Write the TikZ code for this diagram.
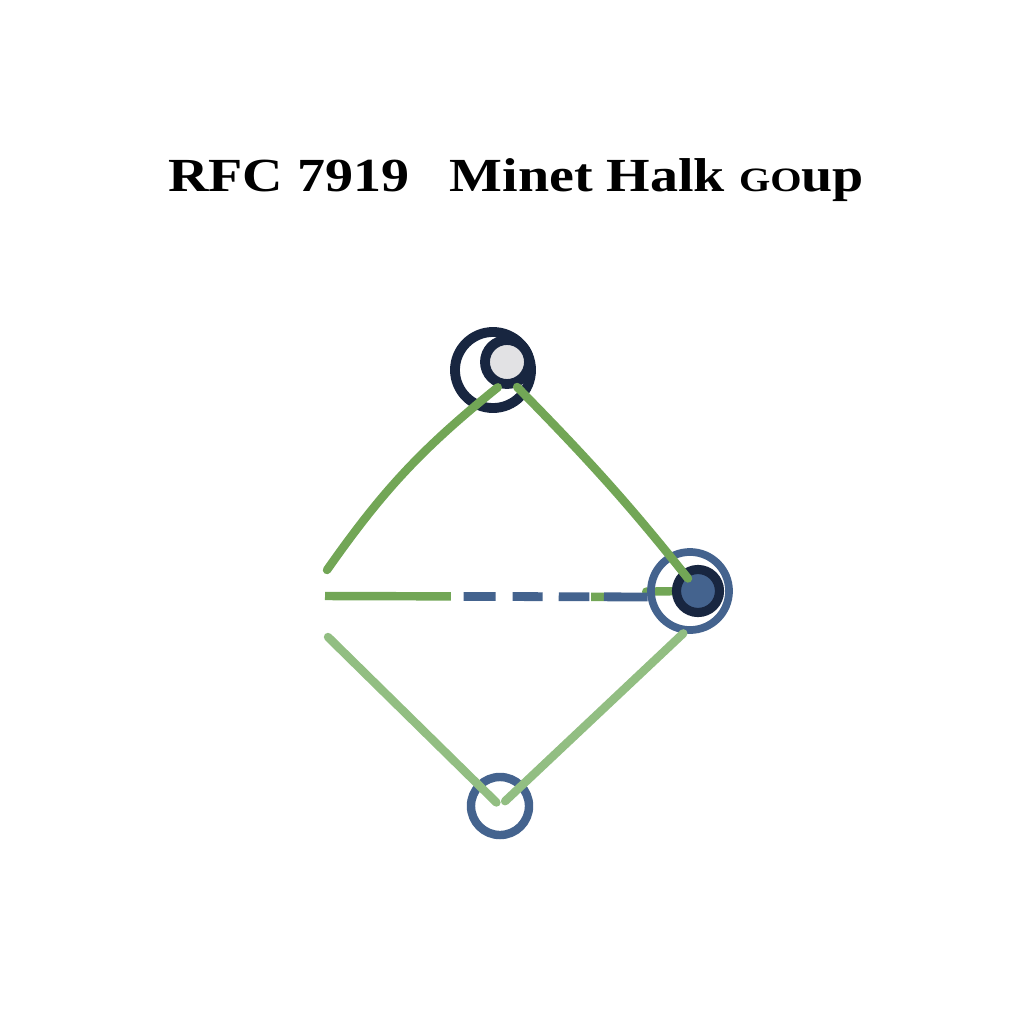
\documentclass[tikz,border=0pt]{standalone}
\usepackage{tikz}
\usepackage{fontspec}
\setmainfont{Liberation Serif}
\usetikzlibrary{arrows.meta,calc,positioning}
\definecolor{linkgreen}{RGB}{114,166,86}
\definecolor{palegreen}{RGB}{146,190,130}
\definecolor{navy}{RGB}{24,38,64}
\definecolor{hubblue}{RGB}{68,99,142}
\definecolor{hubgray}{RGB}{226,226,228}

\begin{document}
\begin{tikzpicture}[x=0.01cm, y=-0.01cm,
  ring/.style={circle, draw, inner sep=0pt, line width=2.4pt},
  link/.style={draw=linkgreen, line width=2.4pt, line cap=round},
  lowlink/.style={link, draw=palegreen},
  navylink/.style={draw=hubblue, line width=2.5pt}]
  \useasboundingbox (0,0) rectangle (1024,1024);

  % Title
  \node[font=\fontsize{13.5}{16}\selectfont\bfseries, xscale=1.18] (title) at (516,180)
    {RFC 7919\hspace{0.47em} Minet Halk {\fontsize{9.7}{12}\selectfont GO}up};

  % Define points
  \coordinate (ul) at (327,570);
  \coordinate (ml) at (325,596);
  \coordinate (ll) at (328,637);
  \coordinate (hubc) at (690,591);

  % green piece under the right ring
  \draw[link] (hubc) -- ($(hubc)!0.12!(ml)$);

  % Nodes
  \node[ring, draw=navy, line width=2.8pt, minimum size=0.76cm] (topring) at (493,370) {};
  \node[ring, draw=navy, line width=2.8pt, fill=hubgray, minimum size=0.44cm] (top) at (507,362) {};
  \node[ring, draw=hubblue, line width=2.2pt, minimum size=0.78cm] (hub) at (hubc) {};
  \node[ring, draw=navy, line width=2.6pt, fill=hubblue, minimum size=0.43cm] (hubin) at (698,591) {};
  \node[ring, draw=hubblue, minimum size=0.58cm] (bot) at (500,806) {};

  % Upper links
  \draw[link] (ul) to[bend left=8] (top.250);
  \draw[link, shorten >=0.16cm] (top.292) to[bend left=3] (hubin.center);

  % Middle link
  \coordinate (mr) at (hub.188);
  \draw[link, line cap=butt] (ml) -- ($(ml)!0.39!(mr)$);
  \draw[navylink, dash pattern=on 0.32cm off 0.17cm on 0.30cm off 0.16cm] ($(ml)!0.43!(mr)$) -- ($(ml)!0.82!(mr)$);
  \draw[link, line cap=butt] ($(ml)!0.825!(mr)$) -- ($(ml)!0.865!(mr)$);
  \draw[navylink] ($(ml)!0.865!(mr)$) -- (mr);

  % Lower links
  \draw[lowlink, shorten >=0.05cm] (ll) -- (bot.center);
  \draw[lowlink, shorten <=0.07cm] (bot.center) -- (hub.261);
\end{tikzpicture}
\end{document}
